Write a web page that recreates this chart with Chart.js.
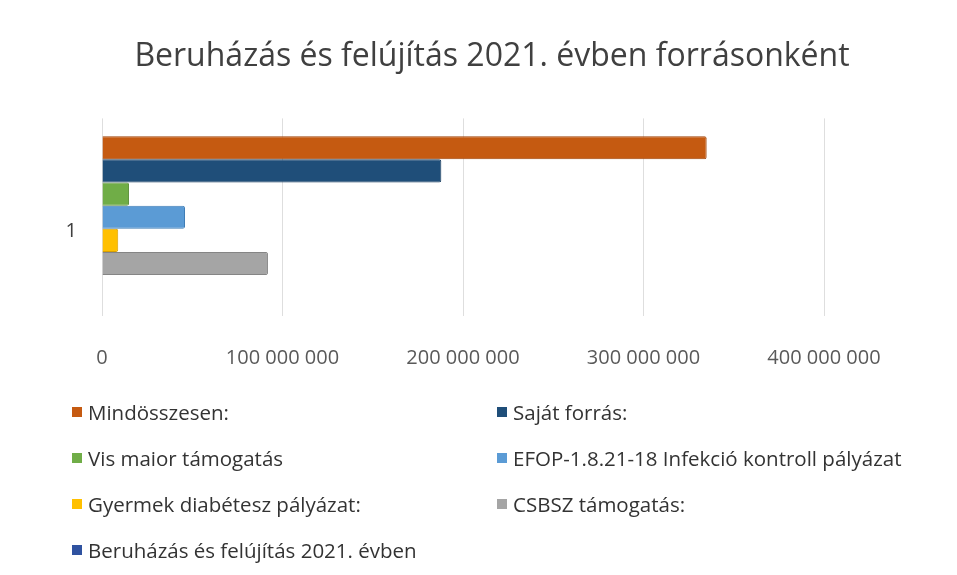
<!DOCTYPE html>
<html>
<head>
<meta charset="utf-8">
<script src="https://cdn.jsdelivr.net/npm/chart.js@4/dist/chart.umd.min.js"></script>
<style>
    html, body { margin: 0; padding: 0; background: #fff; }
    #wrap { position: relative; width: 957px; height: 575px; overflow: hidden; }
    #chart { position: absolute; left: 0; top: 0; }
    #legend {
        position: absolute; left: 72px; top: 397px; width: 880px;
        display: grid; grid-template-columns: 425px 455px; row-gap: 17px;
        font-family: "Open Sans", sans-serif; font-size: 20.5px; color: #333333;
    }
    .item { display: flex; align-items: center; height: 29px; white-space: nowrap; }
    .box { width: 10px; height: 10px; margin-right: 6px; flex: none; }
</style>
</head>
<body>
<div id="wrap">
    <canvas id="chart" width="957" height="575"></canvas>
    <div id="legend"></div>
</div>
<script>
    // chart data
    const categories = ["1"];
    const series_names = [
        "Mindösszesen:",
        "Saját forrás:",
        "Vis maior támogatás",
        "EFOP-1.8.21-18 Infekció kontroll pályázat",
        "Gyermek diabétesz pályázat:",
        "CSBSZ támogatás:",
        "Beruházás és felújítás 2021. évben"
    ];
    const series_values = [
        [335000000],
        [188000000],
        [15000000],
        [46000000],
        [9000000],
        [92000000],
        [0]
    ];
    const series_colors = ["#C55A11", "#1F4E79", "#70AD47", "#5B9BD5", "#FFC000", "#A5A5A5", "#2F52A0"];
    const series_borders = ["#9E4409", "#163A5C", "#558A33", "#3F7DB5", "#D9A000", "#858585", "#213C78"];
    const tick_values = [0, 100000000, 200000000, 300000000, 400000000];
    const tick_labels = ["0", "100 000 000", "200 000 000", "300 000 000", "400 000 000"];

    const datasets = series_names.map((name, i) => {
        return {
            label: name,
            data: series_values[i],
            backgroundColor: series_colors[i],
            borderColor: series_borders[i],
            borderWidth: 1,
            borderRadius: 2,
            categoryPercentage: 0.82,
            barPercentage: 1.0
        };
    });

    new Chart(document.getElementById("chart"), {
        type: 'bar',
        data: {
            labels: categories,
            datasets: datasets
        },
        options: {
            indexAxis: 'y',
            responsive: false,
            animation: false,
            layout: {
                padding: { left: 27, right: 0, top: 0, bottom: 175 }
            },
            plugins: {
                legend: { display: false },
                tooltip: { enabled: false },
                title: {
                    display: true,
                    text: 'Beruházás és felújítás 2021. évben forrásonként',
                    color: '#404040',
                    font: { family: 'Open Sans', size: 32, weight: 'normal' },
                    padding: { top: 38, bottom: 42 }
                }
            },
            scales: {
                x: {
                    min: 0,
                    max: 400000000,
                    afterBuildTicks: (scale) => {
                        scale.ticks = tick_values.map((v) => ({ value: v }));
                    },
                    ticks: {
                        color: '#595959',
                        font: { family: 'Open Sans', size: 20 },
                        padding: 30,
                        maxRotation: 0,
                        callback: (v) => tick_labels[tick_values.indexOf(v)]
                    },
                    grid: { color: '#DEDEDE', drawTicks: false },
                    border: { display: false }
                },
                y: {
                    afterFit: (scale) => { scale.width = 75; },
                    ticks: {
                        color: '#404040',
                        font: { family: 'Open Sans', size: 20 },
                        padding: 25,
                        labelOffset: 14
                    },
                    grid: { display: false, drawTicks: false },
                    border: { display: false }
                },
                // empty space on the right, keeps the title centred like the original
                yRight: {
                    type: 'linear',
                    position: 'right',
                    afterFit: (scale) => { scale.width = 133; },
                    ticks: { display: false },
                    grid: { display: false, drawTicks: false },
                    border: { display: false }
                }
            }
        }
    });

    // legend in two columns, like the original
    const legend = document.getElementById("legend");
    series_names.forEach((name, i) => {
        const item = document.createElement("div");
        item.className = "item";
        const box = document.createElement("span");
        box.className = "box";
        box.style.background = series_colors[i];
        const text = document.createElement("span");
        text.textContent = name;
        item.appendChild(box);
        item.appendChild(text);
        legend.appendChild(item);
    });
</script>
</body>
</html>
